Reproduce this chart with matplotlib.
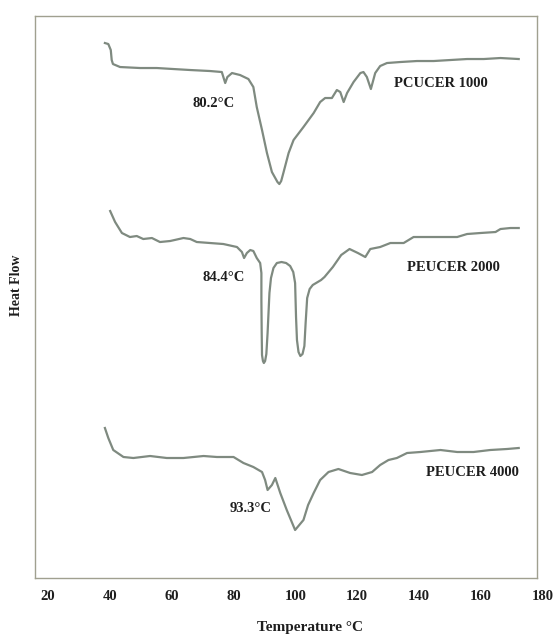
import numpy as np
import matplotlib
matplotlib.use("Agg")
import matplotlib.pyplot as plt
import matplotlib.transforms as mtransforms

# DSC traces: temperature (degC) and heat flow (arbitrary units, curves offset)
t_1000 = [38.4, 39.5, 40.3, 40.6, 41.0, 43.3, 49.8, 55.2, 60.5, 66.0, 72.4, 76.2, 77.3, 78.0, 79.5,
          82.1, 84.8, 86.4, 87.5, 89.2, 90.8, 92.4, 94.2, 94.8, 95.4, 96.1, 97.8, 99.4, 102.6, 105.9, 108.0,
          109.6, 111.8, 113.4, 114.5, 115.6, 116.7, 118.8, 121.0, 122.0, 123.1, 124.4, 125.8,
          127.4, 129.6, 133.9, 139.3, 144.7, 150.1, 155.5, 160.9, 166.3, 172.2]
hf_1000 = [53.5, 53.4, 52.8, 51.8, 51.4, 51.1, 51.0, 51.0, 50.9, 50.8, 50.7, 50.6, 49.5, 50.1, 50.5,
           50.3, 49.9, 49.1, 47.1, 44.8, 42.5, 40.6, 39.6, 39.4, 39.7, 40.5, 42.5, 43.8, 45.1, 46.5, 47.6,
           48.0, 48.0, 48.8, 48.6, 47.6, 48.5, 49.6, 50.5, 50.6, 50.1, 48.9, 50.5,
           51.2, 51.5, 51.6, 51.7, 51.7, 51.8, 51.9, 51.9, 52.0, 51.9]

t_2000 = [40.1, 41.7, 43.9, 46.5, 48.7, 50.8, 53.6, 56.2, 59.5, 63.8, 66.0, 68.1, 72.4, 76.7, 81.1,
          82.7, 83.4, 84.3, 85.4, 86.4, 87.5, 88.6, 89.0, 89.0, 89.1, 89.2, 89.5, 89.8, 90.2, 90.6,
          91.0, 91.6, 92.1, 92.9, 94.0, 95.5, 97.0, 98.3, 99.3, 99.9, 100.2, 100.5, 101.0, 101.6,
          102.3, 102.9, 103.3, 103.8, 104.6, 105.6, 108.3,
          109.4, 112.1, 114.8, 117.5, 120.2, 122.6, 124.2, 127.4, 130.7, 135.0, 138.2, 142.6,
          147.9, 152.3, 155.5, 159.8, 164.7, 166.3, 169.5, 172.2]
hf_2000 = [36.7, 35.6, 34.5, 34.1, 34.2, 33.9, 34.0, 33.6, 33.7, 34.0, 33.9, 33.6, 33.5, 33.4, 33.1,
           32.6, 32.0, 32.5, 32.8, 32.7, 32.0, 31.5, 30.5, 27.8, 24.5, 22.3, 21.7, 21.5, 21.7, 22.4,
           24.5, 28.5, 30.0, 31.0, 31.5, 31.6, 31.5, 31.2, 30.6, 29.5, 26.1, 23.8, 22.6, 22.2,
           22.4, 23.2, 25.5, 28.0, 28.9, 29.3, 29.8,
           30.1, 31.1, 32.3, 32.9, 32.5, 32.1, 32.9, 33.1, 33.5, 33.5, 34.1, 34.1,
           34.1, 34.1, 34.4, 34.5, 34.6, 34.9, 35.0, 35.0]

t_4000 = [38.4, 39.5, 41.1, 44.4, 47.6, 53.0, 58.4, 63.8, 70.3, 74.6, 80.0, 83.2, 86.4, 89.2, 90.2,
          91.0, 92.4, 93.5, 95.1, 97.2, 99.9, 102.6, 104.1, 105.9, 108.0, 110.7, 113.9, 117.7,
          121.5, 124.8, 127.4, 130.1, 132.8, 136.1, 140.4, 146.9, 152.3, 157.6, 163.0, 168.4, 172.2]
hf_4000 = [15.0, 14.0, 12.8, 12.1, 12.0, 12.2, 12.0, 12.0, 12.2, 12.1, 12.1, 11.5, 11.1, 10.6, 9.8,
           8.8, 9.3, 10.0, 8.5, 6.8, 4.8, 5.8, 7.3, 8.5, 9.8, 10.6, 10.9, 10.5,
           10.3, 10.6, 11.3, 11.8, 12.0, 12.5, 12.6, 12.8, 12.6, 12.6, 12.8, 12.9, 13.0]

names = ["PCUCER 1000", "PEUCER 2000", "PEUCER 4000"]
peaks = ["80.2\u00b0C", "84.4\u00b0C", "93.3\u00b0C"]
xticks = [20, 40, 60, 80, 100, 120, 140, 160, 180]

plt.rcParams['font.family'] = ['Liberation Serif', 'DejaVu Serif']
plt.rcParams['font.weight'] = 'bold'

fig = plt.figure(figsize=(5.53, 6.36), dpi=100)
ax = fig.add_axes([0.0633, 0.0912, 0.9077, 0.8836])

line_col = '#7f8a80'
for t, hf in [(t_1000, hf_1000), (t_2000, hf_2000), (t_4000, hf_4000)]:
    ax.plot(t, hf, color=line_col, lw=1.6, solid_joinstyle='round')

txt = dict(fontsize=10.5, fontweight='bold', color='#1e1e1e', ha='center', va='center')
ax.text(73.5, 47.5, peaks[0], **txt)
ax.text(146.9, 49.5, names[0], **txt)
ax.text(76.7, 30.1, peaks[1], **txt)
ax.text(151.2, 31.1, names[1], **txt)
ax.text(85.4, 7.0, peaks[2], **txt)
ax.text(157.2, 10.6, names[2], **txt)

ax.set_xlim(15.8, 178.1)
ax.set_ylim(0, 56.2)
ax.set_xticks([v for v in xticks if v <= 178])
ax.set_xticklabels([str(v) for v in xticks if v <= 178])
ax.set_yticks([])
ax.tick_params(axis='x', length=0, pad=9, labelsize=10.5, labelcolor='#1e1e1e')

# the last label sits just past the frame in the original
trans = mtransforms.blended_transform_factory(ax.transData, ax.transAxes)
for v in xticks:
    if v > 178:
        ax.text(v, -0.0323, str(v), transform=trans, ha='center', va='center',
                fontsize=10.5, fontweight='bold', color='#1e1e1e', clip_on=False)

for s in ax.spines.values():
    s.set_color('#a0a090')
    s.set_linewidth(1.0)

ax.set_xlabel("Temperature \u00b0C", fontsize=11, fontweight='bold', color='#1e1e1e', labelpad=14)
ax.xaxis.set_label_coords(0.548, -0.077)
ax.set_ylabel("Heat Flow", fontsize=10, fontweight='bold', color='#1e1e1e', labelpad=10)
ax.yaxis.set_label_coords(-0.024, 0.52)

fig.savefig("out.png", dpi=100)
